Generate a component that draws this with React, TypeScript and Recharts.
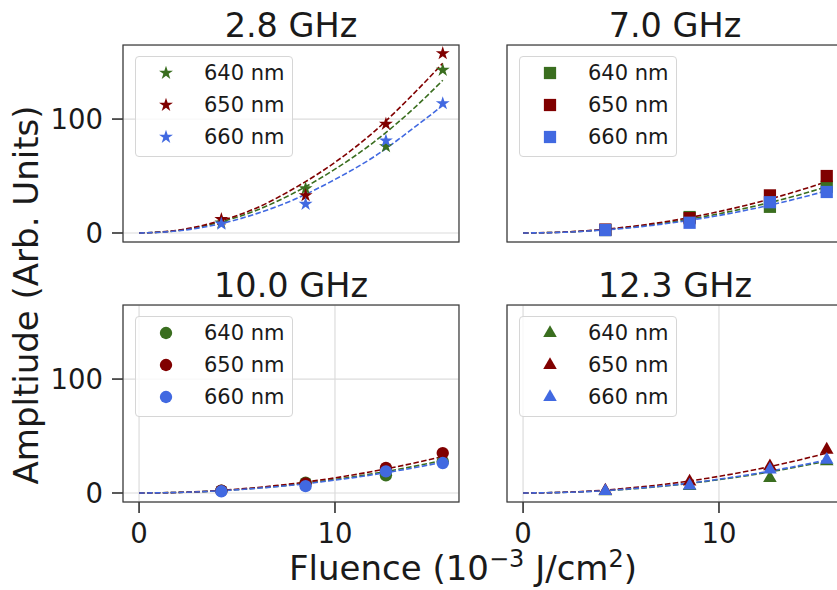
import React from "react";
import {
  ComposedChart,
  Scatter,
  Line,
  XAxis,
  YAxis,
  ZAxis,
  CartesianGrid,
  Symbols,
} from "recharts";

// fluence of the measured points (10^-3 J/cm^2)
const fluence = [4.2, 8.5, 12.6, 15.5];
const fitFluence = [0, 2, 4, 6, 8, 10, 12, 14, 15.5];

const wavelengths = ["640 nm", "650 nm", "660 nm"];
const colors = ["#3a6e1f", "#800000", "#4169e1"];

// 2.8 GHz
const amp2p8_640 = [9, 39, 76, 143];
const amp2p8_650 = [12, 33, 95.6, 157.6];
const amp2p8_660 = [8, 25.4, 81, 113.7];
const fit2p8_640 = [0, 2.2, 9, 20, 36, 56, 80, 109, 134];
const fit2p8_650 = [0, 2.5, 10, 22, 40, 62, 89, 122, 149];
const fit2p8_660 = [0, 1.9, 7.5, 17, 30, 47, 67, 92, 112];

// 7.0 GHz
const amp7p0_640 = [2.6, 14, 23, 40.6];
const amp7p0_650 = [3, 13, 33, 50];
const amp7p0_660 = [2.6, 9, 27, 36];
const fit7p0_640 = [0, 0.7, 2.7, 6.1, 10.8, 16.9, 24.3, 33, 40.6];
const fit7p0_650 = [0, 0.8, 3, 6.8, 12, 18.8, 27, 36.8, 45];
const fit7p0_660 = [0, 0.6, 2.5, 5.5, 9.9, 15.4, 22.2, 30.2, 37];

// 10.0 GHz
const amp10p0_640 = [2, 9, 15.5, 27.7];
const amp10p0_650 = [2, 8.5, 22, 35];
const amp10p0_660 = [1.5, 6, 19, 26.3];
const fit10p0_640 = [0, 0.5, 1.9, 4.3, 7.6, 11.9, 17.1, 23.3, 28.6];
const fit10p0_650 = [0, 0.5, 2.1, 4.8, 8.5, 13.3, 19.2, 26.1, 32];
const fit10p0_660 = [0, 0.45, 1.8, 4.1, 7.2, 11.3, 16.2, 22, 27];

// 12.3 GHz
const amp12p3_640 = [1.5, 6, 13, 27.7];
const amp12p3_650 = [2, 10, 23.4, 38];
const amp12p3_660 = [1.6, 6.5, 20.5, 29.2];
const fit12p3_640 = [0, 0.5, 1.9, 4.2, 7.5, 11.7, 16.8, 22.9, 28];
const fit12p3_650 = [0, 0.6, 2.3, 5.3, 9.3, 14.6, 21, 28.6, 35];
const fit12p3_660 = [0, 0.5, 1.9, 4.4, 7.7, 12.1, 17.4, 23.7, 29];

const FONT = "DejaVu Sans";
const PW = 336;
const PH = 197;
const X_DOMAIN = [-0.82, 16.33];
const Y_DOMAIN = [-7.9, 165];

const toPoints = (xs: number[], ys: number[]) =>
  xs.map((x, i) => ({ x, y: ys[i] }));

const panels = [
  {
    title: "2.8 GHz",
    shape: "star",
    size: 60,
    left: 123,
    top: 45,
    firstCol: true,
    bottomRow: false,
    amps: [amp2p8_640, amp2p8_650, amp2p8_660],
    fits: [fit2p8_640, fit2p8_650, fit2p8_660],
  },
  {
    title: "7.0 GHz",
    shape: "square",
    size: 150,
    left: 507,
    top: 45,
    firstCol: false,
    bottomRow: false,
    amps: [amp7p0_640, amp7p0_650, amp7p0_660],
    fits: [fit7p0_640, fit7p0_650, fit7p0_660],
  },
  {
    title: "10.0 GHz",
    shape: "circle",
    size: 120,
    left: 123,
    top: 305,
    firstCol: true,
    bottomRow: true,
    amps: [amp10p0_640, amp10p0_650, amp10p0_660],
    fits: [fit10p0_640, fit10p0_650, fit10p0_660],
  },
  {
    title: "12.3 GHz",
    shape: "triangle",
    size: 80,
    left: 507,
    top: 305,
    firstCol: false,
    bottomRow: true,
    amps: [amp12p3_640, amp12p3_650, amp12p3_660],
    fits: [fit12p3_640, fit12p3_650, fit12p3_660],
  },
];

const tickStyle = { fontSize: 27.5, fill: "#1a1a1a", fontFamily: FONT };
const tickLine = { stroke: "#222", strokeWidth: 1.5 };

function Panel({ p }: { p: (typeof panels)[number] }) {
  const yw = p.firstCol ? 123 : 16;
  const series: React.ReactNode[] = [];
  p.amps.forEach((a, i) => {
    series.push(
      <Scatter
        key={"s" + i}
        data={toPoints(fluence, a)}
        fill={colors[i]}
        shape={p.shape as any}
        isAnimationActive={false}
      />
    );
    series.push(
      <Line
        key={"l" + i}
        data={toPoints(fitFluence, p.fits[i])}
        dataKey="y"
        type="monotone"
        stroke={colors[i]}
        strokeWidth={1.6}
        strokeDasharray="5.5 2.4"
        dot={false}
        activeDot={false}
        isAnimationActive={false}
      />
    );
  });
  return (
    <div style={{ position: "absolute", left: p.left - yw, top: p.top }}>
      <ComposedChart
        width={yw + PW}
        height={PH + 60}
        margin={{ top: 0, right: 0, bottom: 0, left: 0 }}
      >
        <CartesianGrid stroke="#dcdcdc" strokeWidth={1.2} />
        <XAxis
          type="number"
          dataKey="x"
          domain={X_DOMAIN}
          ticks={[0, 10]}
          allowDataOverflow
          height={60}
          tickSize={11}
          tickMargin={10}
          axisLine={false}
          tickLine={tickLine}
          tick={p.bottomRow ? tickStyle : false}
        />
        <YAxis
          type="number"
          dataKey="y"
          domain={Y_DOMAIN}
          ticks={[0, 100]}
          allowDataOverflow
          width={yw}
          tickSize={11}
          tickMargin={9}
          axisLine={false}
          tickLine={tickLine}
          tick={p.firstCol ? tickStyle : false}
        />
        <ZAxis range={[p.size, p.size]} />
        {series}
      </ComposedChart>
    </div>
  );
}

function LegendBox({ p }: { p: (typeof panels)[number] }) {
  return (
    <div
      style={{
        position: "absolute",
        left: p.left + 12,
        top: p.top + 11,
        width: 158,
        height: 101,
        border: "1px solid #d6d6d6",
        borderRadius: 4,
        background: "rgba(255,255,255,0.8)",
        boxSizing: "border-box",
      }}
    >
      {wavelengths.map((w, i) => (
        <div
          key={w}
          style={{
            position: "absolute",
            left: 0,
            top: i * 32,
            height: 32,
            display: "flex",
            alignItems: "center",
          }}
        >
          <svg width={60} height={32}>
            <Symbols
              cx={30}
              cy={16}
              type={p.shape as any}
              size={p.size}
              fill={colors[i]}
            />
          </svg>
          <span
            style={{
              marginLeft: 8,
              fontSize: 21,
              fontFamily: FONT,
              color: "#1a1a1a",
            }}
          >
            {w}
          </span>
        </div>
      ))}
    </div>
  );
}

export default function App() {
  return (
    <div
      style={{
        position: "absolute",
        left: 0,
        top: 0,
        width: 837,
        height: 590,
        overflow: "hidden",
        background: "#fff",
        fontFamily: FONT,
      }}
    >
      {panels.map((p) => (
        <Panel key={p.title} p={p} />
      ))}
      <svg
        width={837}
        height={590}
        style={{ position: "absolute", left: 0, top: 0, pointerEvents: "none" }}
        fontFamily={FONT}
        fill="#1a1a1a"
      >
        {panels.map((p) => (
          <rect
            key={"f" + p.title}
            x={p.left}
            y={p.top}
            width={PW}
            height={PH}
            fill="none"
            stroke="#3d3d3d"
            strokeWidth={1.25}
          />
        ))}
        {panels.map((p) => (
          <text
            key={"t" + p.title}
            x={p.left + PW / 2}
            y={p.top - 8}
            textAnchor="middle"
            fontSize={33.5}
          >
            {p.title}
          </text>
        ))}
        <text
          transform="translate(37.5,295) rotate(-90)"
          textAnchor="middle"
          fontSize={34}
        >
          Ampltiude (Arb. Units)
        </text>
        <text x={463} y={580} textAnchor="middle" fontSize={34}>
          Fluence (10
          <tspan dy={-13} fontSize={24}>
            −3
          </tspan>
          <tspan dy={13}> J/cm</tspan>
          <tspan dy={-13} fontSize={24}>
            2
          </tspan>
          <tspan dy={13}>)</tspan>
        </text>
      </svg>
      {panels.map((p) => (
        <LegendBox key={"g" + p.title} p={p} />
      ))}
    </div>
  );
}
